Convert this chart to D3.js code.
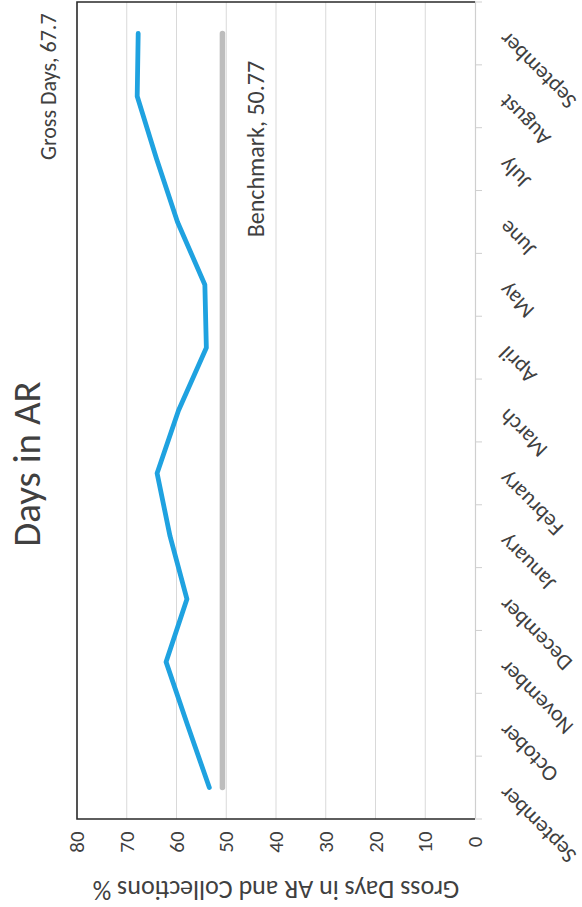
<!DOCTYPE html>
<html>
<head>
<meta charset="utf-8">
<script src="https://cdn.jsdelivr.net/npm/d3@7"></script>
<style>
  html, body { margin: 0; padding: 0; background: #fff; }
  svg { display: block; }
  text { font-family: Carlito, Calibri, Lato, "Noto Sans", sans-serif; fill: #404040; }
</style>
</head>
<body>
<svg id="chart" width="582" height="907"></svg>
<script>
// Monthly categories (Sept to Sept)
const months = ["September", "October", "November", "December", "January", "February",
                "March", "April", "May", "June", "July", "August", "September"];
// Gross days in AR per month
const grossDays = [53.4, 57.8, 62.1, 57.9, 61.3, 63.9, 59.6, 54.0, 54.3, 59.8, 64.0, 67.9, 67.7];
// Benchmark days in AR
const benchmark = [50.77, 50.77, 50.77, 50.77, 50.77, 50.77, 50.77, 50.77, 50.77, 50.77, 50.77, 50.77, 50.77];
// Value axis ticks
const valueTicks = [0, 10, 20, 30, 40, 50, 60, 70, 80];

const title = "Days in AR";
const axisTitle = "Gross Days in AR and Collections %";
const grossName = "Gross Days";
const benchName = "Benchmark";

// The chart is laid out in a landscape frame and turned a quarter turn on the page.
const W = 907, H = 582;
const svg = d3.select("#chart");
const g = svg.append("g").attr("transform", `translate(0,${W}) rotate(-90)`);

const plot = { left: 88, right: 905, top: 77, bottom: 475 };

const x = d3.scaleBand()
  .domain(d3.range(months.length))
  .range([plot.left, plot.right])
  .paddingInner(0).paddingOuter(0);
const cx = i => x(i) + x.bandwidth() / 2;

const y = d3.scaleLinear().domain([0, 80]).range([plot.bottom, plot.top]);

// Horizontal gridlines
g.append("g")
  .selectAll("line")
  .data(valueTicks.filter(v => v > 0 && v < 80))
  .join("line")
  .attr("x1", plot.left).attr("x2", plot.right)
  .attr("y1", d => y(d)).attr("y2", d => y(d))
  .attr("stroke", "#d9d9d9").attr("stroke-width", 1);

// Category axis with outward tick marks at band boundaries
const xAxis = d3.axisBottom(x).tickSize(0).tickFormat("");
g.append("g")
  .attr("transform", `translate(0,${plot.bottom})`)
  .call(xAxis)
  .call(s => s.select(".domain").attr("stroke", "#cfcfcf").attr("stroke-width", 1.2));
g.append("g")
  .selectAll("line")
  .data(d3.range(months.length + 1))
  .join("line")
  .attr("x1", i => plot.left + i * x.step()).attr("x2", i => plot.left + i * x.step())
  .attr("y1", plot.bottom).attr("y2", plot.bottom + 7)
  .attr("stroke", "#cfcfcf").attr("stroke-width", 1);

// Dark frame on the other three sides
g.append("path")
  .attr("d", `M${plot.left},${plot.bottom}V${plot.top}H${plot.right}V${plot.bottom}`)
  .attr("fill", "none").attr("stroke", "#2a2a2a").attr("stroke-width", 1.6);

// Value axis labels
const yAxis = d3.axisLeft(y).tickValues(valueTicks).tickSize(0).tickPadding(0);
const yAxisG = g.append("g").attr("transform", `translate(${plot.left - 23},0)`).call(yAxis);
yAxisG.select(".domain").remove();
yAxisG.selectAll("text")
  .attr("text-anchor", "middle")
  .attr("x", 0)
  .style("font-size", "21px")
  .attr("fill", "#404040");

// Month labels, turned 45 degrees
g.append("g")
  .selectAll("text")
  .data(months)
  .join("text")
  .attr("transform", (d, i) => `translate(${cx(i) + 3},${plot.bottom + 33}) rotate(-45)`)
  .attr("text-anchor", "end")
  .style("font-size", "22px")
  .text(d => d);

// Series lines
const line = d3.line().x((d, i) => cx(i)).y(d => y(d));

g.append("path")
  .datum(benchmark)
  .attr("d", line)
  .attr("fill", "none")
  .attr("stroke", "#bdbdbd")
  .attr("stroke-width", 5.5)
  .attr("stroke-linecap", "round");

g.append("path")
  .datum(grossDays)
  .attr("d", line)
  .attr("fill", "none")
  .attr("stroke", "#1fa2e0")
  .attr("stroke-width", 4.8)
  .attr("stroke-linecap", "round")
  .attr("stroke-linejoin", "round");

// Data labels
const last = grossDays.length - 1;
g.append("text")
  .attr("x", cx(last) + 20).attr("y", 56)
  .attr("text-anchor", "end")
  .style("font-size", "22px")
  .text(`${grossName}, ${grossDays[last]}`);

g.append("text")
  .attr("x", cx(10) + 10).attr("y", y(benchmark[10]) + 42)
  .attr("text-anchor", "middle")
  .style("font-size", "24px")
  .text(`${benchName}, ${benchmark[10]}`);

// Chart title
g.append("text")
  .attr("x", 443).attr("y", 40)
  .attr("text-anchor", "middle")
  .style("font-size", "39px")
  .text(title);

// Value axis title
g.append("text")
  .attr("transform", `translate(17,${(plot.top + plot.bottom) / 2}) rotate(-90)`)
  .attr("text-anchor", "middle")
  .attr("dominant-baseline", "central")
  .style("font-size", "26px")
  .text(axisTitle);
</script>
</body>
</html>
